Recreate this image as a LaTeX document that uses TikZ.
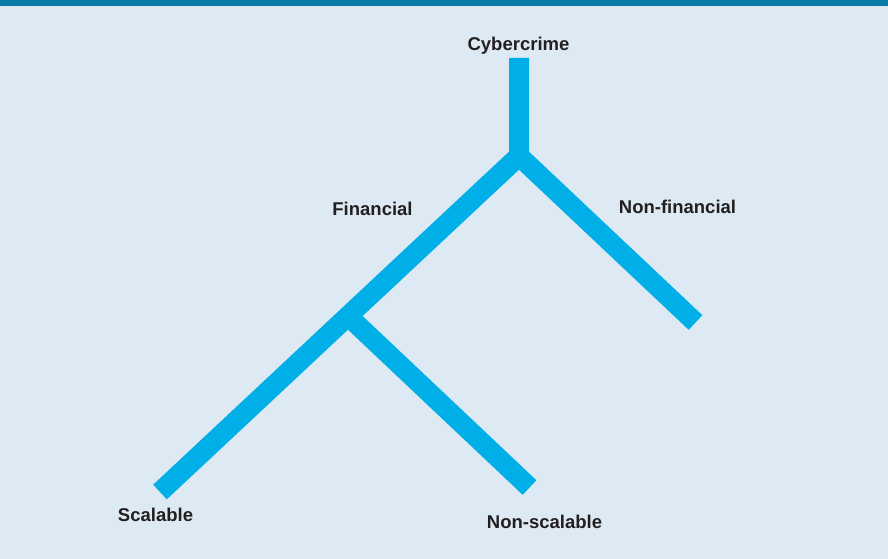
\documentclass[tikz,border=0pt]{standalone}
\usepackage{fontspec}
\setmainfont{Liberation Sans}
\begin{document}
\definecolor{bgblue}{HTML}{DDE9F3}
\definecolor{barblue}{HTML}{0A7BA6}
\definecolor{branch}{HTML}{00AEE8}
\definecolor{labeltext}{HTML}{231F20}
\begin{tikzpicture}[x=1pt,y=-1pt,
  limb/.style={draw=branch,line width=20pt,line cap=butt,line join=miter},
  lbl/.style={anchor=base,inner sep=0pt,text=labeltext,font=\fontsize{18.5}{21}\selectfont\bfseries}]
  % canvas and top rule
  \fill[bgblue] (0,0) rectangle (888,559);
  \fill[barblue] (0,0) rectangle (888,6.5);
  \useasboundingbox (0,0) rectangle (888,559);
  % tree points
  \coordinate (top) at (519,58);
  \coordinate (root) at (519,156);
  \coordinate (fin) at (348,316);
  \coordinate (scal) at (160,492);
  \coordinate (nscal) at (529.5,487.5);
  \coordinate (nfin) at (695.5,322.5);
  % branches
  \draw[limb] (top) -- (root) -- (fin) -- (scal);
  \draw[limb] (root) -- (nfin);
  \draw[limb] (fin) -- (nscal);
  % labels
  \node[lbl] (lcyber) at (518.5,51) {Cybercrime};
  \node[lbl] (lfin) at (372.5,215) {Financial};
  \node[lbl] (lnfin) at (677.5,213) {Non-financial};
  \node[lbl] (lscal) at (155.5,521) {Scalable};
  \node[lbl] (lnscal) at (544.5,528) {Non-scalable};
\end{tikzpicture}
\end{document}
